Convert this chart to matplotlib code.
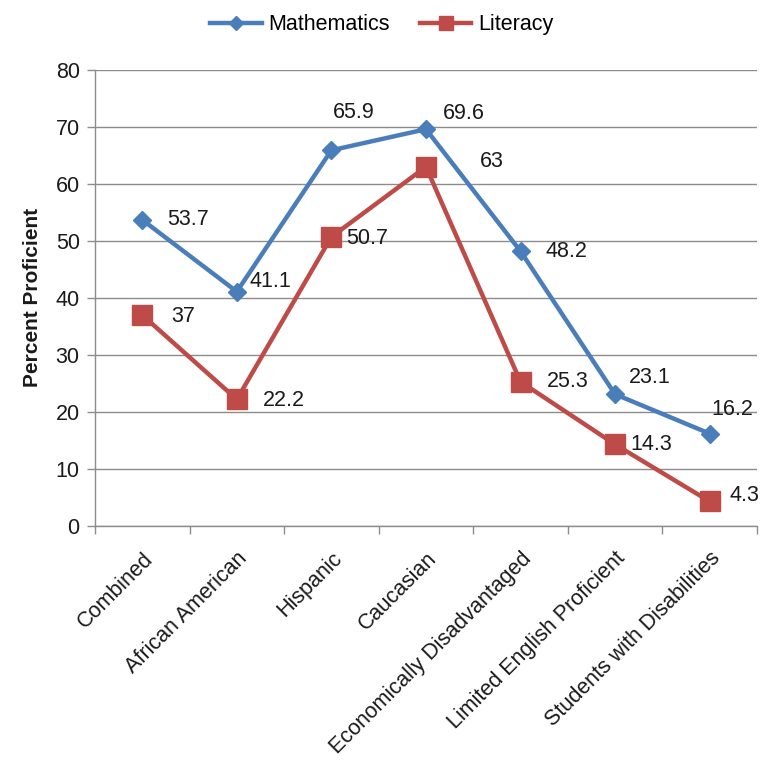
import matplotlib
matplotlib.use("Agg")
import matplotlib.pyplot as plt

plt.rcParams['font.family'] = ['Liberation Sans', 'DejaVu Sans']

groups = ['Combined', 'African American', 'Hispanic', 'Caucasian',
          'Economically Disadvantaged', 'Limited English Proficient',
          'Students with Disabilities']
math_vals = [53.7, 41.1, 65.9, 69.6, 48.2, 23.1, 16.2]
lit_vals = [37, 22.2, 50.7, 63, 25.3, 14.3, 4.3]
math_labels = ['53.7', '41.1', '65.9', '69.6', '48.2', '23.1', '16.2']
lit_labels = ['37', '22.2', '50.7', '63', '25.3', '14.3', '4.3']

# label offsets in points (left edge of text, vertical centre)
math_off = [(18, 0), (9, 7), (1, 27), (12, 11), (18, 0), (10, 12), (1, 17)]
lit_off = [(21, -1), (19, -1), (11, -1), (39, 4), (19, 0), (11, 0), (14, 4)]

BLUE = '#4A7EBB'
RED = '#BE4B48'
GRID = '#8C8C8C'
FS = 15.5

fig = plt.figure(figsize=(7.63, 7.6), dpi=100)
ax = fig.add_axes([0.1245, 0.308, 0.8675, 0.6])

x = list(range(len(groups)))
ax.plot(x, math_vals, color=BLUE, lw=3.2, marker='D', markersize=9.5,
        label='Mathematics', zorder=4)
ax.plot(x, lit_vals, color=RED, lw=3.2, marker='s', markersize=14,
        label='Literacy', zorder=3)

for i in x:
    ax.annotate(math_labels[i], (i, math_vals[i]), xytext=math_off[i],
                textcoords='offset points', ha='left', va='center',
                fontsize=FS, color='#1a1a1a')
    ax.annotate(lit_labels[i], (i, lit_vals[i]), xytext=lit_off[i],
                textcoords='offset points', ha='left', va='center',
                fontsize=FS, color='#1a1a1a')

ax.set_xlim(-0.5, len(groups) - 0.5)
ax.set_ylim(0, 80)
ax.set_yticks(range(0, 81, 10))
ax.yaxis.grid(True, color=GRID, lw=1)
ax.set_axisbelow(True)

ax.set_xticks([i - 0.5 for i in range(len(groups) + 1)])
ax.set_xticklabels([])
ax.set_xticks(x, minor=True)
ax.set_xticklabels(groups, minor=True, rotation=45, ha='right',
                   rotation_mode='anchor', fontsize=FS, color='#1a1a1a')
ax.tick_params(axis='x', which='minor', length=0, pad=16)
ax.tick_params(axis='x', which='major', length=6, color=GRID, width=1)
ax.tick_params(axis='y', length=6, color=GRID, width=1, labelsize=FS,
               labelcolor='#1a1a1a', pad=5)

for s in ['top', 'right']:
    ax.spines[s].set_visible(False)
for s in ['left', 'bottom']:
    ax.spines[s].set_color(GRID)
    ax.spines[s].set_linewidth(1)

ax.set_ylabel('Percent Proficient', fontsize=15, fontweight='bold',
              labelpad=10, color='#1a1a1a')

fig.legend(loc='upper center', bbox_to_anchor=(0.5, 1.007), ncol=2,
           frameon=False, fontsize=FS, handlelength=2.4, columnspacing=1.4,
           handletextpad=0.3, markerscale=0.7)

fig.savefig('out.png', dpi=100)
